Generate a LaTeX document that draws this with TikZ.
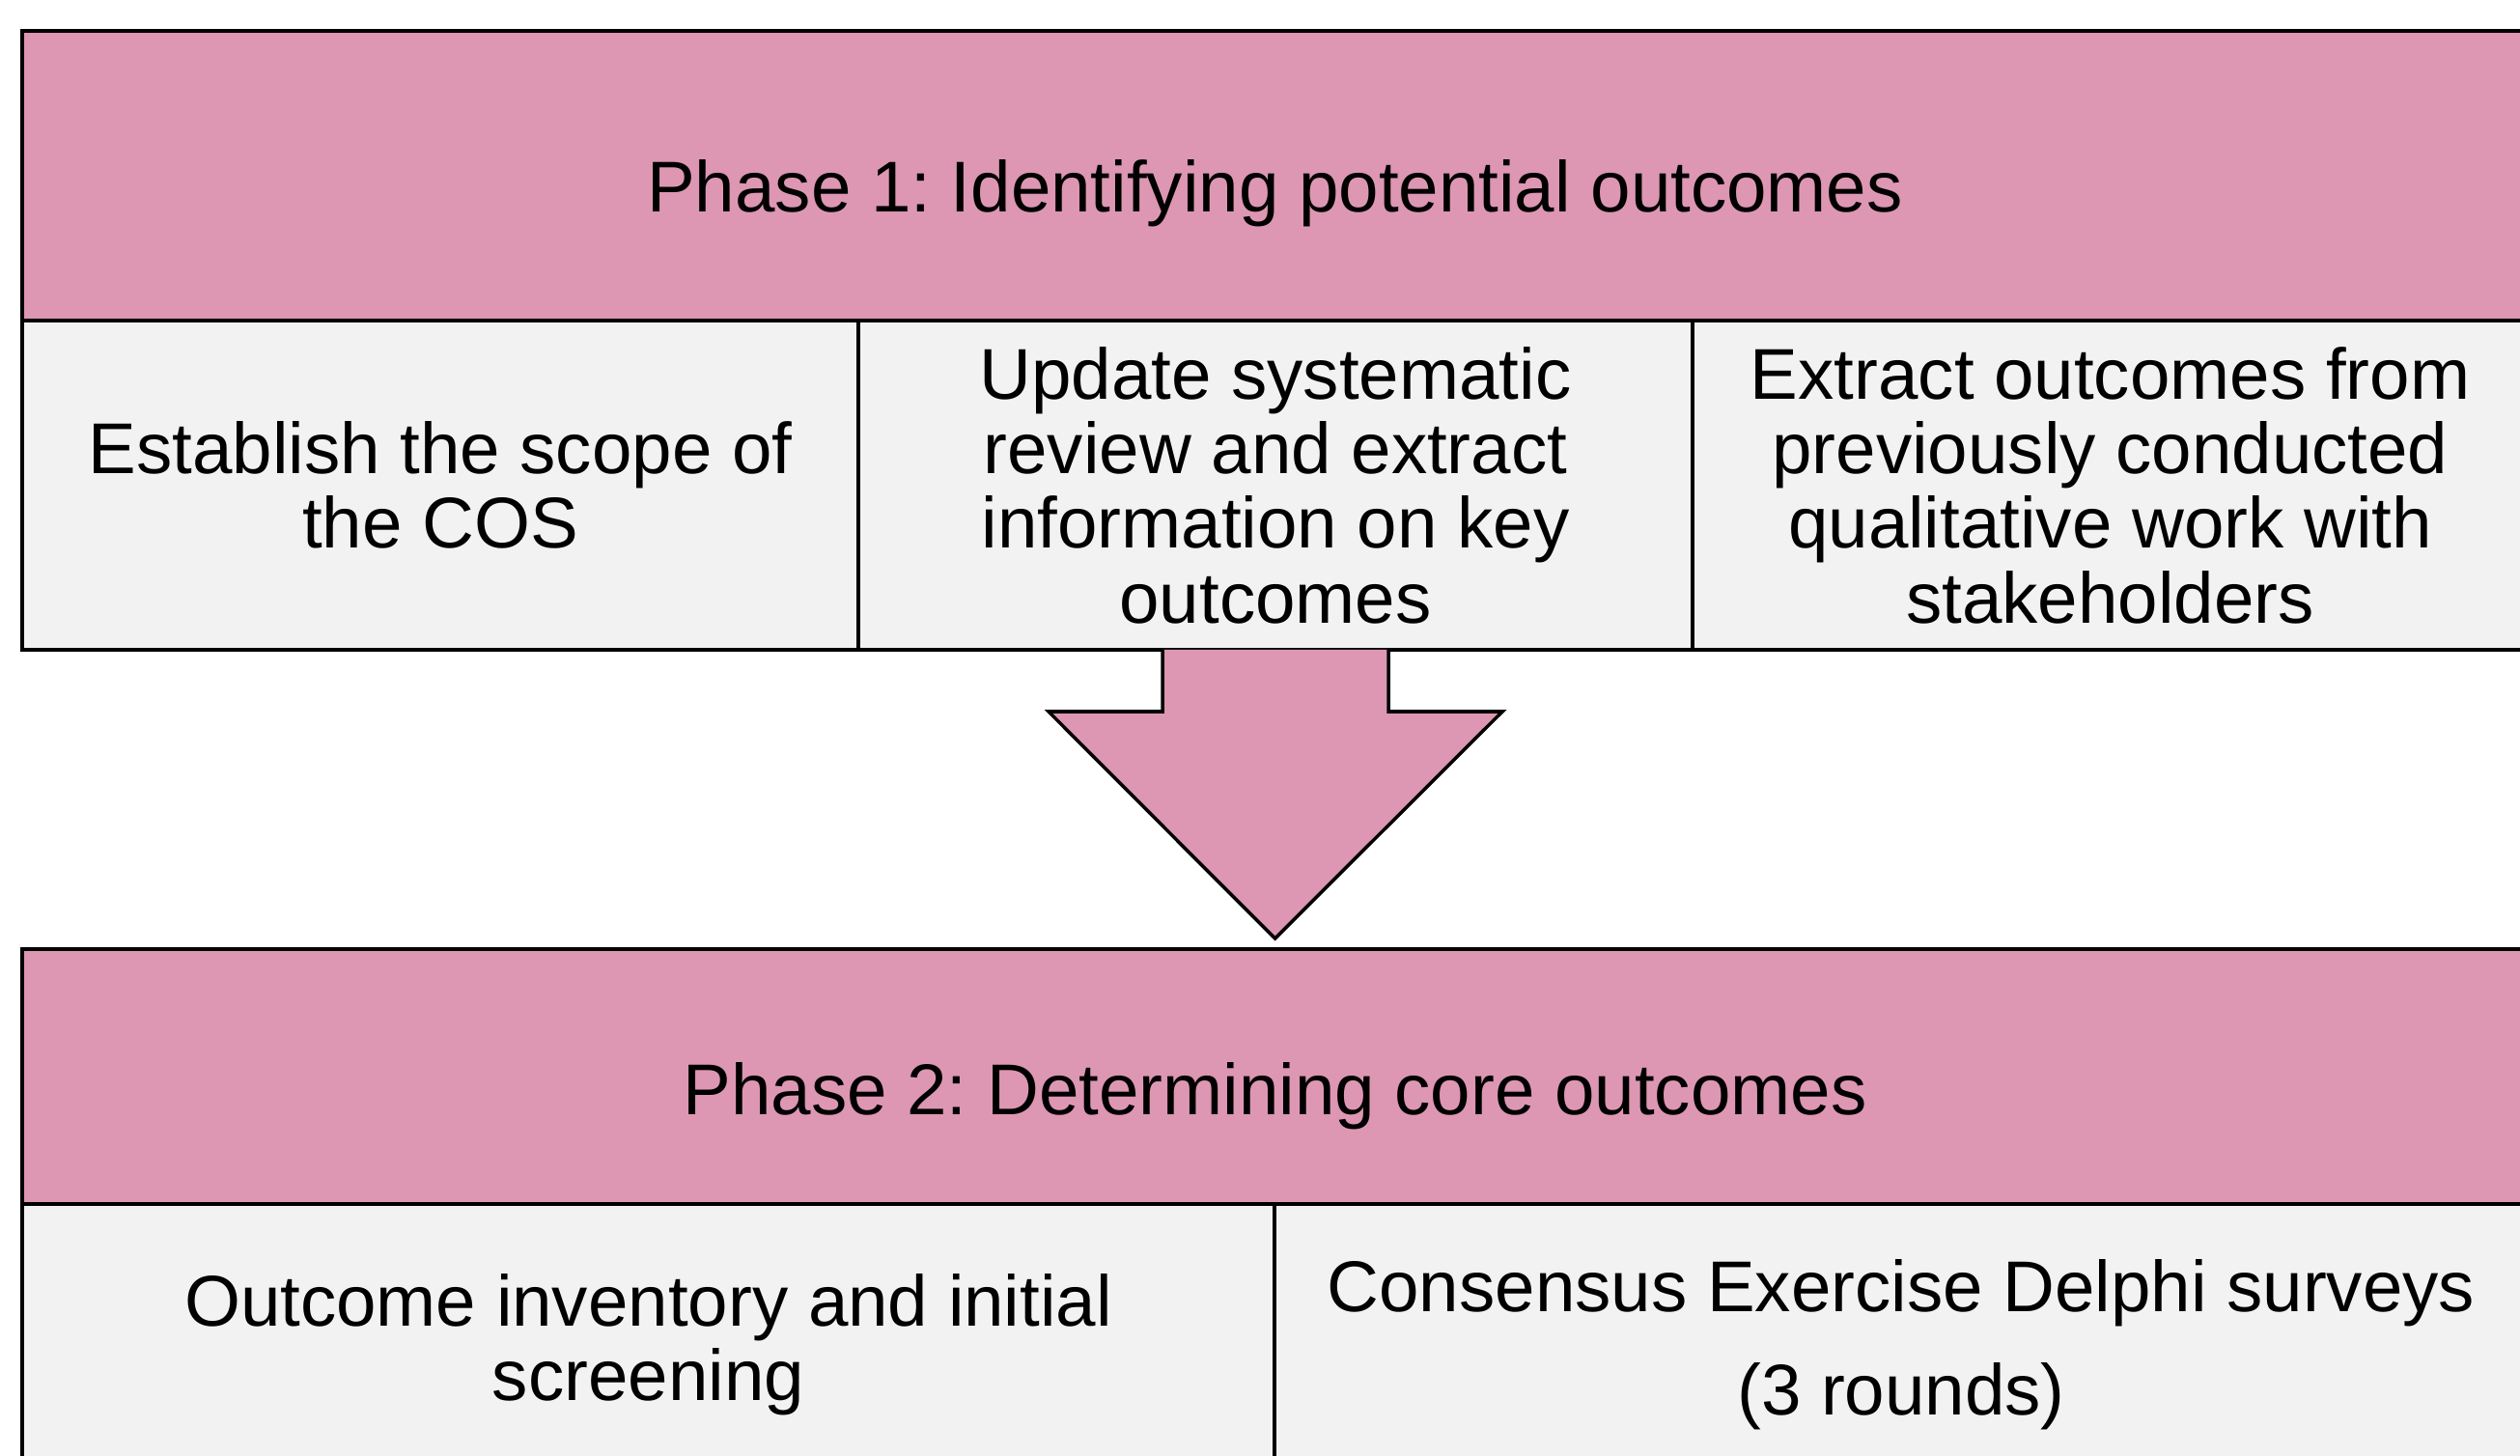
\documentclass[tikz,border=0pt]{standalone}
\usepackage{fontspec}
\setmainfont{Liberation Sans}
\usetikzlibrary{calc}
\frenchspacing

\definecolor{phasepink}{RGB}{221,151,178}
\definecolor{cellgrey}{RGB}{242,242,242}

\tikzset{
  txt/.style={font=\fontsize{21.2pt}{22pt}\selectfont, text=black},
  box/.style={rectangle, draw=black, line width=1pt, inner sep=0pt,
              outer sep=0pt, anchor=north west},
  phasebox/.style={box, fill=phasepink},
  cellbox/.style={box, fill=cellgrey, txt, align=center},
  phasetitle/.style={txt, anchor=base, inner sep=0pt},
  blockarrow/.style={draw=black, fill=phasepink, line width=1pt}
}

\begin{document}
\begin{tikzpicture}
\useasboundingbox (0,0) rectangle (26.10,-15.08);
\clip (0,0) rectangle (26.10,-15.08);

% Phase 1 header and its three activity cells
\node[phasebox, minimum width=25.95cm, minimum height=3.00cm] (ph1) at (0.23,-0.32) {};
\node[phasetitle] (ph1t) at ($(ph1.center)+(0,-0.38)$) {Phase 1: Identifying potential outcomes};

\node[cellbox, minimum width=8.66cm, minimum height=3.41cm] (c11) at (0.23,-3.32)
  {Establish the scope of\\the COS};
\node[cellbox, minimum width=8.64cm, minimum height=3.41cm] (c12) at (8.89,-3.32)
  {Update systematic\\review and extract\\information on key\\outcomes};
\node[cellbox, minimum width=8.65cm, minimum height=3.41cm] (c13) at (17.53,-3.32)
  {Extract outcomes from\\previously conducted\\qualitative work with\\stakeholders};

% Phase 2 header and its two activity cells
\node[phasebox, minimum width=25.95cm, minimum height=2.64cm] (ph2) at (0.23,-9.83) {};
\node[phasetitle] (ph2t) at ($(ph2.center)+(0,-0.39)$) {Phase 2: Determining core outcomes};

\node[cellbox, minimum width=12.97cm, minimum height=2.92cm] (c21) at (0.23,-12.47)
  {Outcome inventory and initial\\screening};
\node[cellbox, minimum width=12.98cm, minimum height=2.92cm] (c22) at (13.20,-12.47)
  {Consensus Exercise Delphi surveys\\[0.297cm](3 rounds)};

% Block arrow from the middle Phase 1 cell down to Phase 2
\draw[blockarrow]
  ($(c12.south)+(-1.17,0)$) -- ++(0,-0.64) -- ++(-1.18,0)
  -- ($(ph2.north)+(0,0.11)$)
  -- ($(c12.south)+(2.35,-0.64)$) -- ++(-1.18,0) -- ++(0,0.64);
\end{tikzpicture}
\end{document}
